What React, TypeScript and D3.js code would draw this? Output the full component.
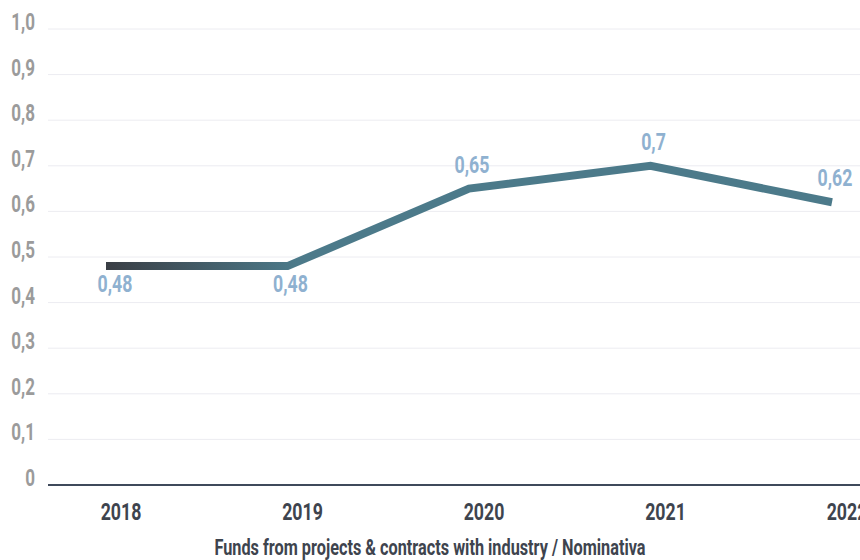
import React from 'react';
import * as d3 from 'd3';

const years = ['2018', '2019', '2020', '2021', '2022'];
const values = [0.48, 0.48, 0.65, 0.7, 0.62];
const labelSide = ['below', 'below', 'above', 'above', 'above'];
const yTicks = [0, 0.1, 0.2, 0.3, 0.4, 0.5, 0.6, 0.7, 0.8, 0.9, 1.0];
const title = 'Funds from projects & contracts with industry / Nominativa';

const width = 860;
const height = 560;
const font = "Roboto, 'DejaVu Sans', sans-serif";
const squeeze = 0.74; // no condensed font installed, so narrow the glyphs by hand

const fmt = (v: number) => (v === 0 ? '0' : v === 1 ? '1,0' : String(v).replace('.', ','));

interface NarrowTextProps {
    x: number;
    y: number;
    anchor?: 'start' | 'middle' | 'end';
    size: number;
    fill: string;
    children: React.ReactNode;
}

const NarrowText: React.FC<NarrowTextProps> = ({ x, y, anchor = 'middle', size, fill, children }) => (
    <text transform={`translate(${x},${y}) scale(${squeeze},1)`} textAnchor={anchor}
        fontSize={size} fill={fill}>{children}</text>
);

const App: React.FC = () => {
    const x = d3.scalePoint<string>().domain(years).range([106, 832]);
    const y = d3.scaleLinear().domain([0, 1]).range([485, 29]);

    const line = d3.line<number>()
        .x((_, i) => x(years[i]) as number)
        .y(d => y(d));

    return (
        <svg width={width} height={height}
            style={{ position: 'absolute', left: 0, top: 0, background: '#fff' }}
            fontFamily={font} fontWeight="bold">
            <defs>
                <linearGradient id="lineGrad" gradientUnits="userSpaceOnUse"
                    x1={x('2018')} x2={(x('2019') as number) + 10} y1={0} y2={0}>
                    <stop offset="0" stopColor="#3a3e45" />
                    <stop offset="1" stopColor="#4c7a8a" />
                </linearGradient>
            </defs>

            {/* grid + y labels */}
            {yTicks.map(t => (
                <g key={t}>
                    {t > 0 && (
                        <line x1={48} x2={width} y1={y(t)} y2={y(t)} stroke="#ececf1" strokeWidth={1} />
                    )}
                    <NarrowText x={35} y={y(t) + 1} anchor="end" size={23} fill="#9b9b9b">
                        {fmt(t)}
                    </NarrowText>
                </g>
            ))}

            {/* baseline */}
            <line x1={48} x2={width} y1={y(0)} y2={y(0)} stroke="#3f4a5b" strokeWidth={2} />

            {/* x labels */}
            {years.map(yr => (
                <NarrowText key={yr} x={(x(yr) as number) + 15} y={520} size={24} fill="#3e444e">
                    {yr}
                </NarrowText>
            ))}

            {/* line */}
            <path d={line(values) || ''} fill="none" stroke="url(#lineGrad)" strokeWidth={8}
                strokeLinejoin="miter" />

            {/* value labels */}
            {values.map((v, i) => (
                <NarrowText key={i} x={Math.max((x(years[i]) as number) + 3, 115)}
                    y={labelSide[i] === 'below' ? y(v) + 26 : y(v) - 16}
                    size={24} fill="#8fb1d0">{fmt(v)}</NarrowText>
            ))}

            <NarrowText x={430} y={555} size={22} fill="#3e444e">{title}</NarrowText>
        </svg>
    );
};

export default App;
